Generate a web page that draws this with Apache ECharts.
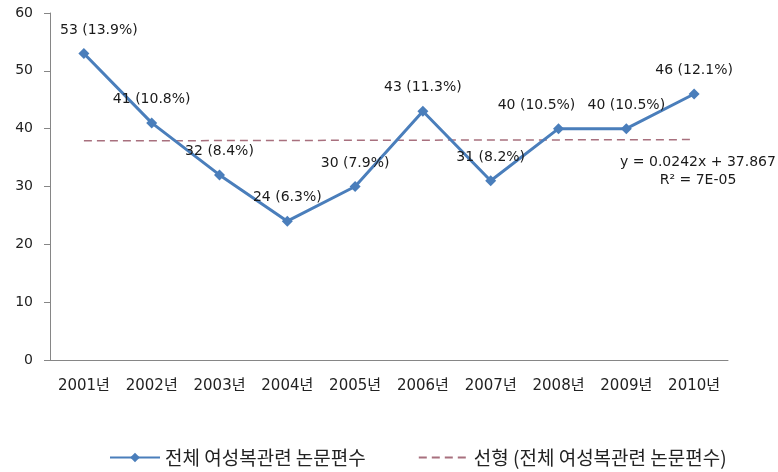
<!DOCTYPE html>
<html>
<head>
<meta charset="utf-8">
<script src="https://cdn.jsdelivr.net/npm/echarts@6/dist/echarts.min.js"></script>
<style>
  html, body { margin: 0; padding: 0; background: #fff; }
  #chart { width: 778px; height: 472px; }
</style>
</head>
<body>
<div id="chart"></div>
<script>
const years = ['2001년', '2002년', '2003년', '2004년', '2005년', '2006년', '2007년', '2008년', '2009년', '2010년']
const paperCounts = [53, 41, 32, 24, 30, 43, 31, 40, 40, 46]
const paperShares = ['13.9%', '10.8%', '8.4%', '6.3%', '7.9%', '11.3%', '8.2%', '10.5%', '10.5%', '12.1%']
// trend line end points (y = 0.0242x + 37.867)
const trendValues = [37.89, null, null, null, null, null, null, null, null, 38.11]
const yTicks = { min: 0, max: 60, interval: 10 }

const seriesName = '전체 여성복관련 논문편수'
const trendName = '선형 (전체 여성복관련 논문편수)'

const textFont = 'DejaVu Sans, "Noto Sans CJK KR", sans-serif'
const hangulFont = '"Noto Sans CJK KR", "DejaVu Sans", sans-serif'

// a couple of labels sit off-centre in the original
const labelShift = { 0: [15, 0], 7: [-22, 0] }

const chart = echarts.init(document.getElementById('chart'))

const option = {
  animation: false,
  backgroundColor: '#fff',
  grid: { left: 50, right: 50, top: 13, bottom: 112 },
  legend: {
    top: 443,
    left: 104,
    itemWidth: 50,
    itemHeight: 12,
    itemGap: 52,
    textStyle: { fontFamily: hangulFont, fontSize: 19, color: '#222' },
    data: [
      { name: seriesName },
      { name: trendName, itemStyle: { opacity: 0 } },
    ],
  },
  xAxis: {
    type: 'category',
    data: years,
    boundaryGap: true,
    axisLine: { lineStyle: { color: '#868686', width: 1 } },
    axisTick: { length: 6, lineStyle: { color: '#868686' } },
    axisLabel: { margin: 19, fontFamily: textFont, fontSize: 15, color: '#222' },
    splitLine: { show: false },
  },
  yAxis: {
    type: 'value',
    min: yTicks.min,
    max: yTicks.max,
    interval: yTicks.interval,
    axisLine: { show: true, lineStyle: { color: '#868686', width: 1 } },
    axisTick: { show: true, length: 6, lineStyle: { color: '#868686' } },
    axisLabel: { margin: 17, fontFamily: textFont, fontSize: 14, color: '#222' },
    splitLine: { show: false },
  },
  series: [
    {
      name: trendName,
      type: 'line',
      data: trendValues,
      connectNulls: true,
      symbol: 'none',
      z: 1,
      lineStyle: { color: '#a8707e', width: 1.5, type: [8, 5] },
      itemStyle: { color: '#a8707e' },
    },
    {
      name: seriesName,
      type: 'line',
      z: 3,
      data: paperCounts.map((v, i) => ({
        value: v,
        label: labelShift[i] ? { offset: labelShift[i] } : undefined,
      })),
      symbol: 'diamond',
      symbolSize: 11,
      lineStyle: { color: '#4a7ebb', width: 3 },
      itemStyle: { color: '#4a7ebb' },
      label: {
        show: true,
        position: 'top',
        distance: 11,
        fontFamily: textFont,
        fontSize: 14,
        color: '#1a1a1a',
        formatter: p => paperCounts[p.dataIndex] + ' (' + paperShares[p.dataIndex] + ')',
      },
    },
  ],
  graphic: [
    {
      type: 'text',
      x: 698,
      y: 153,
      style: {
        text: 'y = 0.0242x + 37.867\nR² = 7E-05',
        align: 'center',
        fontFamily: textFont,
        fontSize: 14,
        lineHeight: 18,
        fill: '#1a1a1a',
      },
    },
  ],
}

chart.setOption(option)
window.addEventListener('resize', () => chart.resize())
</script>
</body>
</html>
